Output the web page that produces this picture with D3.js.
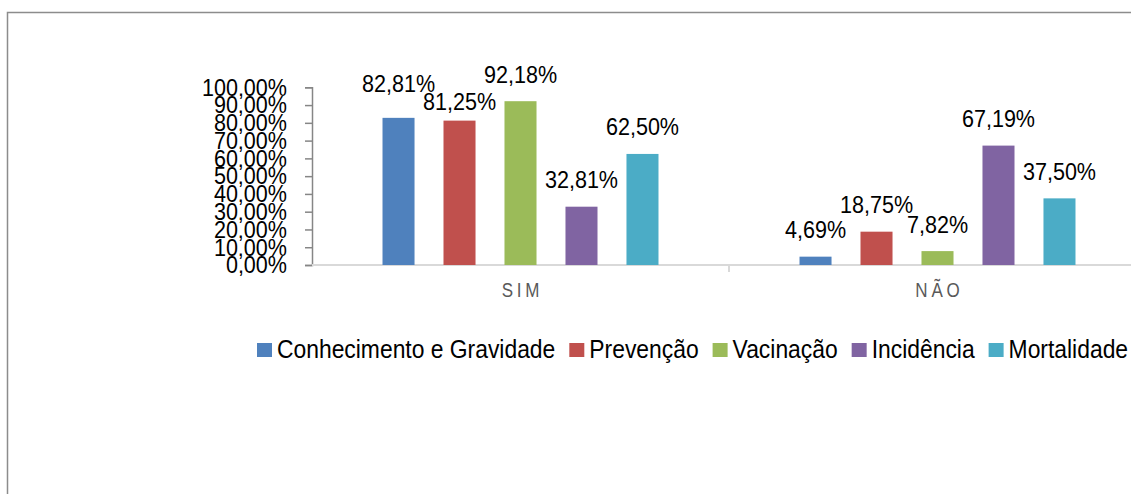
<!DOCTYPE html>
<html>
<head>
<meta charset="utf-8">
<script src="https://cdn.jsdelivr.net/npm/d3@7"></script>
<style>
    body { margin: 0; background: #fff; }
    svg { display: block; font-family: "Liberation Sans", Arial, sans-serif; }
</style>
</head>
<body>
<div id="chart"></div>
<script>
"use strict";

var categories = ["SIM", "NÃO"],
    series = ["Conhecimento e Gravidade", "Prevenção", "Vacinação", "Incidência", "Mortalidade"],
    sim = [82.81, 81.25, 92.18, 32.81, 62.50],
    nao = [4.69, 18.75, 7.82, 67.19, 37.50],
    yTicks = [0, 10, 20, 30, 40, 50, 60, 70, 80, 90, 100],
    colors = ["#4F81BD", "#C0504D", "#9BBB59", "#8064A2", "#4BACC6"];

var W = 1131, H = 494;
// the original font is narrower than anything installed, so squeeze it a bit
const NARROW = 0.88, LEGEND_NARROW = 0.88, LABEL_GAP = 18.5, LABEL_H = 18;

var fmt = function (v) { return v.toFixed(2).replace(".", ",") + "%"; };

var svg = d3.select("#chart")
    .append("svg")
    .attr("width", W)
    .attr("height", H);

// outer frame, cut off at right and bottom like the original
svg.append("rect")
    .attr("x", 7.5)
    .attr("y", 12.5)
    .attr("width", W + 20)
    .attr("height", H + 20)
    .attr("fill", "none")
    .attr("stroke", "#8c8c8c")
    .attr("stroke-width", 1.5);

var x0 = d3.scaleBand()
    .domain(categories)
    .range([312, 1146])
    .padding(0);

var x1 = d3.scaleBand()
    .domain(series)
    .range([0, x0.bandwidth()])
    .paddingInner(0.475)
    .paddingOuter(1.156);

var y = d3.scaleLinear()
    .domain([0, 100])
    .range([265, 87.3]);

var rows = [];
categories.forEach(function (c, ci) {
    var vals = ci === 0 ? sim : nao;
    series.forEach(function (s, si) {
        rows.push({
            cat: c, name: s, value: vals[si], color: colors[si],
            cx: x0(c) + x1(s) + x1.bandwidth() / 2,
            ly: y(vals[si]) - LABEL_GAP
        });
    });
});

// neighbouring labels that sit at nearly the same height get pushed apart
for (var i = 1; i < rows.length; i++) {
    var a = rows[i - 1], b = rows[i];
    if (a.cat !== b.cat) continue;
    var dy = Math.abs(a.ly - b.ly);
    if (dy < LABEL_H) {
        var shift = (LABEL_H - dy) / 2,
            hi = a.ly < b.ly ? a : b,
            lo = hi === a ? b : a;
        hi.ly -= shift;
        lo.ly += shift;
    }
}

// y axis
var yAxis = svg.append("g")
    .attr("transform", "translate(312,0)")
    .call(d3.axisLeft(y).tickValues(yTicks).tickSize(7).tickFormat(fmt));

yAxis.select(".domain").attr("stroke", "#868686").attr("stroke-width", 1.5);
yAxis.selectAll(".tick line").attr("stroke", "#868686").attr("stroke-width", 1.5);
yAxis.selectAll(".tick text")
    .attr("x", 0)
    .attr("transform", "translate(-25,0) scale(" + NARROW + ",1)")
    .attr("fill", "#000")
    .attr("font-size", 24.5)
    .attr("font-family", "\"Liberation Sans\", Arial, sans-serif");

// x axis baseline
svg.append("line")
    .attr("x1", 312)
    .attr("x2", W)
    .attr("y1", y(0))
    .attr("y2", y(0))
    .attr("stroke", "#d9d9d9")
    .attr("stroke-width", 2);

svg.selectAll(".cat-tick")
    .data(categories.slice(1))
    .enter()
    .append("line")
    .attr("class", "cat-tick")
    .attr("x1", function (d) { return x0(d); })
    .attr("x2", function (d) { return x0(d); })
    .attr("y1", y(0))
    .attr("y2", y(0) + 7)
    .attr("stroke", "#d9d9d9")
    .attr("stroke-width", 2);

svg.selectAll(".cat-label")
    .data(categories)
    .enter()
    .append("text")
    .attr("class", "cat-label")
    .attr("transform", function (d) {
        return "translate(" + (x0(d) + x0.bandwidth() / 2 + 2) + ",297) scale(0.85,1)";
    })
    .attr("text-anchor", "middle")
    .attr("font-size", 20)
    .attr("letter-spacing", 4.5)
    .attr("fill", "#595959")
    .text(function (d) { return d; });

// bars
svg.selectAll(".bar")
    .data(rows)
    .enter()
    .append("rect")
    .attr("class", "bar")
    .attr("x", function (d) { return x0(d.cat) + x1(d.name); })
    .attr("y", function (d) { return y(d.value); })
    .attr("width", x1.bandwidth())
    .attr("height", function (d) { return y(0) - y(d.value); })
    .attr("fill", function (d) { return d.color; });

// data labels
svg.selectAll(".val")
    .data(rows)
    .enter()
    .append("text")
    .attr("class", "val")
    .attr("transform", function (d) {
        return "translate(" + d.cx + "," + d.ly + ") scale(" + NARROW + ",1)";
    })
    .attr("text-anchor", "middle")
    .attr("font-size", 24.5)
    .attr("fill", "#000")
    .text(function (d) { return fmt(d.value); });

// legend
var legend = svg.append("g").attr("transform", "translate(257,0)");
var lx = 0;
series.forEach(function (s, i) {
    var item = legend.append("g").attr("transform", "translate(" + lx + ",0)");
    item.append("rect")
        .attr("x", 0)
        .attr("y", 343)
        .attr("width", 15)
        .attr("height", 14)
        .attr("fill", colors[i]);
    var t = item.append("text")
        .attr("transform", "translate(20,358) scale(" + LEGEND_NARROW + ",1)")
        .attr("font-size", 26)
        .attr("fill", "#000")
        .text(s);
    lx += 20 + t.node().getComputedTextLength() * LEGEND_NARROW + 14;
});
</script>
</body>
</html>
